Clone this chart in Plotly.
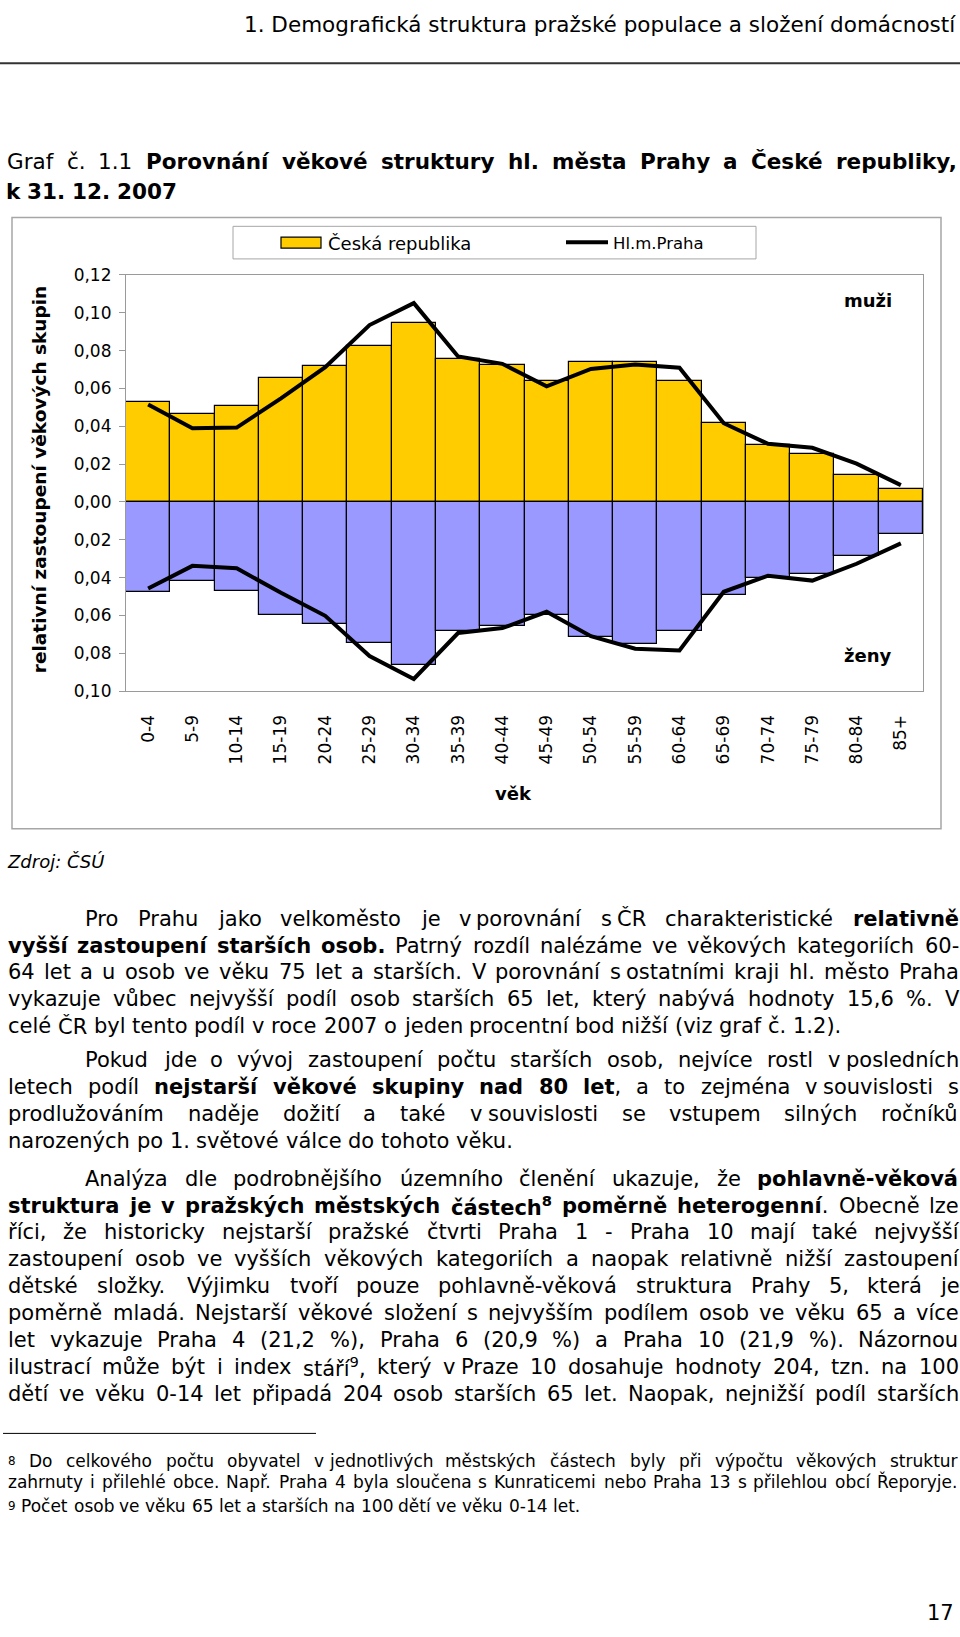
import re
import plotly.graph_objects as go

# ---------------- data ----------------
vekove_skupiny = ["0-4", "5-9", "10-14", "15-19", "20-24", "25-29", "30-34", "35-39", "40-44",
                  "45-49", "50-54", "55-59", "60-64", "65-69", "70-74", "75-79", "80-84", "85+"]
cr_muzi = [0.0526, 0.0463, 0.0510, 0.0654, 0.0717, 0.0823, 0.0947, 0.0756, 0.0724,
           0.0639, 0.0740, 0.0742, 0.0641, 0.0418, 0.0303, 0.0254, 0.0143, 0.0068]
cr_zeny = [0.0477, 0.0416, 0.0468, 0.0599, 0.0646, 0.0745, 0.0860, 0.0682, 0.0658,
           0.0597, 0.0712, 0.0752, 0.0682, 0.0492, 0.0402, 0.0381, 0.0284, 0.0171]
praha_muzi = [0.0515, 0.0390, 0.0393, 0.0547, 0.0712, 0.0935, 0.1051, 0.0769, 0.0730,
              0.0611, 0.0703, 0.0726, 0.0709, 0.0416, 0.0307, 0.0286, 0.0202, 0.0089]
praha_zeny = [0.0458, 0.0338, 0.0351, 0.0480, 0.0602, 0.0815, 0.0936, 0.0693, 0.0667,
              0.0581, 0.0710, 0.0776, 0.0785, 0.0475, 0.0390, 0.0416, 0.0327, 0.0219]
y_tick_values = [-0.10, -0.08, -0.06, -0.04, -0.02, 0.0, 0.02, 0.04, 0.06, 0.08, 0.10, 0.12]
y_tick_labels = ["0,10", "0,08", "0,06", "0,04", "0,02", "0,00", "0,02", "0,04", "0,06", "0,08", "0,10", "0,12"]

# ---------------- page geometry ----------------
W, H = 960, 1637
FONT = "DejaVu Sans"


def px(x):
    return x / W


def py(y):
    return 1 - y / H


# ---------------- text width estimation (for justification) ----------------
REG = {' ': .318, 'a': .613, 'b': .635, 'c': .550, 'd': .635, 'e': .615, 'f': .352,
       'g': .635, 'h': .634, 'i': .278, 'j': .278, 'k': .579, 'l': .278, 'm': .974, 'n': .634,
       'o': .612, 'p': .635, 'q': .635, 'r': .411, 's': .521, 't': .392, 'u': .634, 'v': .592,
       'w': .818, 'x': .592, 'y': .592, 'z': .525, '.': .318, ',': .318, ':': .337, '-': .361,
       '(': .390, ')': .390, '%': .950, 'A': .684, 'B': .686, 'C': .698, 'D': .770, 'E': .632,
       'F': .575, 'G': .775, 'H': .752, 'I': .295, 'J': .295, 'K': .656, 'L': .557, 'M': .863,
       'N': .748, 'O': .787, 'P': .603, 'R': .695, 'S': .635, 'T': .611, 'U': .732, 'V': .684,
       'Z': .685, 'Y': .611}
BOLD = {' ': .348, 'a': .675, 'b': .716, 'c': .593, 'd': .716, 'e': .678, 'f': .435,
        'g': .716, 'h': .712, 'i': .343, 'j': .343, 'k': .665, 'l': .343, 'm': 1.042, 'n': .712,
        'o': .687, 'p': .716, 'r': .493, 's': .595, 't': .478, 'u': .712, 'v': .652, 'y': .652,
        'z': .582, '.': .380, ',': .380, '-': .415, 'P': .733, 'S': .720, 'C': .734, 'R': .770}
for d_ in '0123456789':
    REG[d_] = .636
    BOLD[d_] = .696
DIAC = {'á': 'a', 'č': 'c', 'ď': 'd', 'é': 'e', 'ě': 'e', 'í': 'i', 'ň': 'n', 'ó': 'o', 'ř': 'r',
        'š': 's', 'ť': 't', 'ú': 'u', 'ů': 'u', 'ý': 'y', 'ž': 'z', 'Č': 'C', 'Ř': 'R', 'Š': 'S',
        'Ú': 'U', 'Ž': 'Z', 'Ý': 'Y', 'Á': 'A', 'É': 'E'}
GLUE = '~'          # marks a fixed (non-stretching) word space
GLUE_EM = 0.26


def char_w(ch, bold):
    b = DIAC.get(ch, ch)
    if bold:
        return BOLD.get(b, REG.get(b, .6) * 1.1)
    return REG.get(b, .6)


def parse(html):
    chars, bold, sup = [], False, False
    for tok in re.split(r'(<[^>]+>)', html):
        if tok == '<b>':
            bold = True
        elif tok == '</b>':
            bold = False
        elif tok == '<sup>':
            sup = True
        elif tok == '</sup>':
            sup = False
        else:
            for ch in tok:
                chars.append((ch, bold, sup))
    return chars


def split_on(chars, sep):
    parts, cur = [], []
    for c in chars:
        if c[0] == sep:
            if cur:
                parts.append(cur)
                cur = []
        else:
            cur.append(c)
    if cur:
        parts.append(cur)
    return parts


def word_html(word):
    runs = []
    for ch, b, s in word:
        if runs and runs[-1][0] == (b, s):
            runs[-1][1] += ch
        else:
            runs.append([(b, s), ch])
    out = ''
    for (b, s), t in runs:
        if s:
            t = '<sup>' + t + '</sup>'
        if b:
            t = '<b>' + t + '</b>'
        out += t
    return out


def part_width(part, size):
    return sum(char_w(ch, b) * (0.7 if s else 1.0) for ch, b, s in part) * size


def unit_width(parts, size):
    return sum(part_width(p, size) for p in parts) + GLUE_EM * size * (len(parts) - 1)


annotations = []


def add_text(text, x, y, size, anchor='left', angle=0, **fontkw):
    annotations.append(dict(text=text, x=px(x), y=py(y), xref='paper', yref='paper',
                            xanchor=anchor, yanchor='middle', showarrow=False, textangle=angle,
                            font=dict(family=FONT, size=size, color='black', **fontkw)))


def place_unit(parts, x, y, size):
    for p in parts:
        add_text(word_html(p), x, y, size)
        x += part_width(p, size) + GLUE_EM * size


def add_line(html, y, size, left, right, justify):
    units = [split_on(w_, GLUE) for w_ in split_on(parse(html), ' ')]
    widths = [unit_width(u, size) for u in units]
    if justify and len(units) > 1:
        gap = (right - left - sum(widths)) / (len(units) - 1)
    else:
        gap = REG[' '] * size
    x = left
    for i, (u, wd) in enumerate(zip(units, widths)):
        if justify and i == len(units) - 1 and len(units) > 1:
            place_unit(u, right - wd, y, size)
        else:
            place_unit(u, x, y, size)
        x += wd + gap


LEFT, RIGHT = 6, 957
BODY = 21

# header
add_text("1. Demografická struktura pražské populace a složení domácností", 958, 15, 21.5, anchor='right')
# graph caption
add_line("Graf č. 1.1 <b>Porovnání věkové struktury hl. města Prahy a České republiky,</b>", 153, 21.5, 5, RIGHT, True)
add_line("<b>k 31. 12. 2007</b>", 184, 21.5, 4, RIGHT, False)
# source
add_text("Zdroj: ČSÚ", 5, 862, 18, style='italic')

para1 = [
    ("Pro Prahu jako velkoměsto je v~porovnání s~ČR charakteristické <b>relativně</b>", True, True),
    ("<b>vyšší zastoupení starších osob.</b> Patrný rozdíl nalézáme ve věkových kategoriích 60-", True, False),
    ("64 let a u osob ve věku 75 let a starších. V porovnání s~ostatními kraji hl. město Praha", True, False),
    ("vykazuje vůbec nejvyšší podíl osob starších 65 let, který nabývá hodnoty 15,6 %. V", True, False),
    ("celé ČR byl tento podíl v roce 2007 o jeden procentní bod nižší (viz graf č. 1.2).", False, False),
]
para2 = [
    ("Pokud jde o vývoj zastoupení počtu starších osob, nejvíce rostl v~posledních", True, True),
    ("letech podíl <b>nejstarší věkové skupiny nad 80 let</b>, a to zejména v~souvislosti s", True, False),
    ("prodlužováním naděje dožití a také v~souvislosti se vstupem silných ročníků", True, False),
    ("narozených po 1. světové válce do tohoto věku.", False, False),
]
para3 = [
    ("Analýza dle podrobnějšího územního členění ukazuje, že <b>pohlavně-věková</b>", True, True),
    ("<b>struktura je v pražských městských částech<sup>8</sup> poměrně heterogenní</b>. Obecně lze", True, False),
    ("říci, že historicky nejstarší pražské čtvrti Praha 1 - Praha 10 mají také nejvyšší", True, False),
    ("zastoupení osob ve vyšších věkových kategoriích a naopak relativně nižší zastoupení", True, False),
    ("dětské složky. Výjimku tvoří pouze pohlavně-věková struktura Prahy 5, která je", True, False),
    ("poměrně mladá. Nejstarší věkové složení s nejvyšším podílem osob ve věku 65 a více", True, False),
    ("let vykazuje Praha 4 (21,2 %), Praha 6 (20,9 %) a Praha 10 (21,9 %). Názornou", True, False),
    ("ilustrací může být i index stáří<sup>9</sup>, který v~Praze 10 dosahuje hodnoty 204, tzn. na 100", True, False),
    ("dětí ve věku 0-14 let připadá 204 osob starších 65 let. Naopak, nejnižší podíl starších", True, False),
]
for start, step, para in ((920, 27.2, para1), (1063, 27.2, para2), (1183, 27.3, para3)):
    for k, (txt, just, indent) in enumerate(para):
        add_line(txt, start + step * k, BODY, 83 if indent else LEFT, RIGHT, just)

# footnotes
FN = 17
add_line("<sup>8</sup> Do celkového počtu obyvatel v~jednotlivých městských částech byly při výpočtu věkových struktur",
         1469, FN, LEFT, 956, True)
add_line("zahrnuty i přilehlé obce. Např. Praha 4 byla sloučena s Kunraticemi nebo Praha 13 s přilehlou obcí Řeporyje.",
         1490, FN, LEFT, 956, True)
add_line("<sup>9</sup> Počet osob ve věku 65 let a starších na 100 dětí ve věku 0-14 let.", 1514, FN, LEFT, 956, False)
add_text("17", 956, 1623, 21, anchor='right')

# chart texts
add_text("<b>relativní zastoupení věkových skupin</b>", 39, 476, 18.5, anchor='center', angle=-90)
add_text("<b>věk</b>", 513, 793, 18, anchor='center')
add_text("<b>muži</b>", 868, 294, 18, anchor='center')
add_text("<b>ženy</b>", 867, 653, 18, anchor='center')
add_text("Česká republika", 326, 236, 18)
add_text("Hl.m.Praha", 611, 236, 16.5)

# ---------------- figure ----------------
fig = go.Figure()
fig.add_trace(go.Bar(x=vekove_skupiny, y=cr_muzi, name="Česká republika",
                     marker=dict(color="#FFCC00", line=dict(color="black", width=1.2))))
fig.add_trace(go.Bar(x=vekove_skupiny, y=[-v for v in cr_zeny], name="Česká republika (ženy)",
                     marker=dict(color="#9999FF", line=dict(color="black", width=1.2))))
fig.add_trace(go.Scatter(x=vekove_skupiny, y=praha_muzi, mode="lines", name="Hl.m.Praha",
                         line=dict(color="black", width=4)))
fig.add_trace(go.Scatter(x=vekove_skupiny, y=[-v for v in praha_zeny], mode="lines", name="Hl.m.Praha (ženy)",
                         line=dict(color="black", width=4)))

shapes = [
    # header rule
    dict(type="line", xref="paper", yref="paper", x0=0, x1=1, y0=py(54), y1=py(54),
         line=dict(color="#333333", width=2)),
    # chart frame
    dict(type="rect", xref="paper", yref="paper", x0=px(12), x1=px(941), y0=py(210), y1=py(829),
         line=dict(color="#a6a6a6", width=1.5)),
    # legend box
    dict(type="rect", xref="paper", yref="paper", x0=px(233), x1=px(756), y0=py(219), y1=py(252),
         line=dict(color="#a6a6a6", width=1)),
    dict(type="rect", xref="paper", yref="paper", x0=px(281), x1=px(321), y0=py(230), y1=py(241),
         fillcolor="#FFCC00", line=dict(color="black", width=1.2)),
    dict(type="line", xref="paper", yref="paper", x0=px(566), x1=px(608), y0=py(235), y1=py(235),
         line=dict(color="black", width=4)),
    # footnote rule
    dict(type="line", xref="paper", yref="paper", x0=px(3), x1=px(316), y0=py(1441), y1=py(1441),
         line=dict(color="black", width=1)),
]

fig.update_layout(
    width=W, height=H, margin=dict(l=0, r=0, t=0, b=0),
    paper_bgcolor="white", plot_bgcolor="white",
    showlegend=False, barmode="overlay", bargap=0,
    font=dict(family=FONT, color="black"),
    annotations=annotations, shapes=shapes,
    xaxis=dict(domain=[px(126), px(923)], type="category", range=[-0.5, 17.5],
               showline=True, mirror=True, linecolor="#9a9a9a", linewidth=1.2,
               ticks="", tickangle=-90, ticklabelstandoff=16,
               tickfont=dict(family=FONT, size=17, color="black"), showgrid=False, zeroline=False),
    yaxis=dict(domain=[py(689.5), py(268.2)], range=[-0.10, 0.12],
               tickvals=y_tick_values, ticktext=y_tick_labels,
               ticks="outside", ticklen=6, tickcolor="#9a9a9a", ticklabelstandoff=4,
               showline=True, mirror=True, linecolor="#9a9a9a", linewidth=1.2,
               tickfont=dict(family=FONT, size=17, color="black"), showgrid=False, zeroline=False),
)

fig.write_html("out.html", config={"displayModeBar": False},
               post_script="document.body.style.margin='0';document.body.style.overflow='hidden';")
